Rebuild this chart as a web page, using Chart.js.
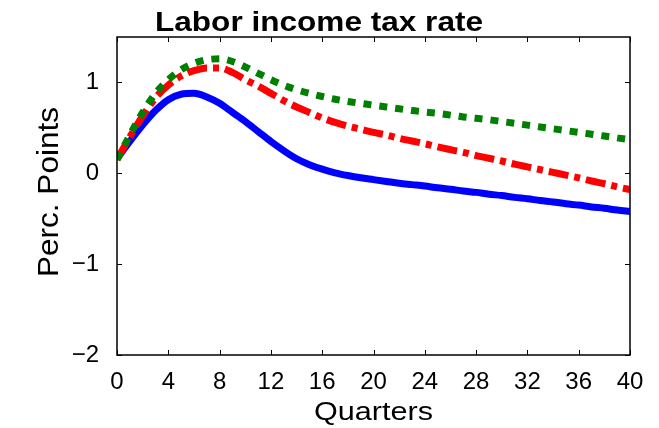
<!DOCTYPE html>
<html>
<head>
<meta charset="utf-8">
<script src="https://cdn.jsdelivr.net/npm/chart.js@4.4.1/dist/chart.umd.min.js"></script>
<style>
  html, body { margin: 0; padding: 0; background: #fff; }
  canvas { display: block; }
</style>
</head>
<body>
<canvas id="chart" width="659" height="428" style="width:659px;height:428px"></canvas>
<script>
// quarters 0..40
const quarters = [0,1,2,3,4,5,6,7,8,9,10,11,12,13,14,15,16,17,18,19,20,
                  21,22,23,24,25,26,27,28,29,30,31,32,33,34,35,36,37,38,39,40];

const blueSeries = [0.16,0.35,0.53,0.69,0.81,0.87,0.88,0.84,0.77,0.67,0.57,
                    0.46,0.35,0.25,0.16,0.095,0.045,0.005,-0.025,-0.05,-0.07,
                    -0.09,-0.11,-0.125,-0.14,-0.16,-0.175,-0.195,-0.21,-0.23,-0.245,
                    -0.265,-0.28,-0.30,-0.315,-0.335,-0.35,-0.37,-0.385,-0.405,-0.42];

const redSeries = [0.15,0.40,0.63,0.83,0.97,1.07,1.13,1.16,1.16,1.11,1.03,
                   0.96,0.88,0.80,0.73,0.67,0.61,0.56,0.52,0.485,0.45,
                   0.42,0.385,0.355,0.325,0.29,0.26,0.23,0.195,0.165,0.135,
                   0.10,0.07,0.04,0.01,-0.02,-0.05,-0.085,-0.115,-0.15,-0.18];

const greenSeries = [0.15,0.42,0.67,0.88,1.03,1.14,1.21,1.25,1.26,1.23,1.17,
                     1.10,1.03,0.97,0.92,0.88,0.845,0.815,0.79,0.77,0.75,
                     0.73,0.71,0.69,0.675,0.66,0.64,0.62,0.605,0.59,0.57,
                     0.55,0.53,0.51,0.49,0.47,0.45,0.43,0.41,0.39,0.37];

const xTicks = [0,4,8,12,16,20,24,28,32,36,40];
const yTicks = [-2,-1,0,1];

const toPoints = vals => vals.map((v, i) => ({ x: quarters[i], y: v }));

// frame + inward ticks on all four sides, like the original
const framePlugin = {
    id: 'frame',
    afterDatasetsDraw(chart) {
        const { ctx, chartArea: a, scales } = chart;
        ctx.save();
        ctx.strokeStyle = '#000';
        ctx.lineWidth = 1.5;
        ctx.strokeRect(a.left, a.top, a.right - a.left, a.bottom - a.top);
        ctx.lineWidth = 1;
        ctx.beginPath();
        xTicks.forEach(t => {
            const px = Math.round(scales.x.getPixelForValue(t)) + 0.5;
            ctx.moveTo(px, a.bottom); ctx.lineTo(px, a.bottom - 5);
            ctx.moveTo(px, a.top); ctx.lineTo(px, a.top + 5);
        });
        yTicks.forEach(t => {
            const py = Math.round(scales.y.getPixelForValue(t)) + 0.5;
            ctx.moveTo(a.left, py); ctx.lineTo(a.left + 5, py);
            ctx.moveTo(a.right, py); ctx.lineTo(a.right - 5, py);
        });
        ctx.stroke();
        ctx.restore();
    }
};

function stretchedText(ctx, text, x, y, width) {
    const w = ctx.measureText(text).width;
    ctx.save();
    ctx.translate(x, y);
    ctx.scale(width / w, 1);
    ctx.fillText(text, 0, 0);
    ctx.restore();
}

const labelsPlugin = {
    id: 'labels',
    afterDraw(chart) {
        const { ctx, chartArea: a } = chart;
        ctx.save();
        ctx.fillStyle = '#000';
        ctx.textAlign = 'center';
        ctx.textBaseline = 'alphabetic';

        ctx.font = 'bold 28px "Liberation Sans", Arial, sans-serif';
        stretchedText(ctx, 'Labor income tax rate', 319, 31, 328);

        ctx.font = '25px "Liberation Sans", Arial, sans-serif';
        stretchedText(ctx, 'Quarters', (a.left + a.right) / 2, 420, 119);

        ctx.save();
        ctx.translate(58, 192);
        ctx.rotate(-Math.PI / 2);
        ctx.font = '30px "Liberation Sans", Arial, sans-serif';
        stretchedText(ctx, 'Perc. Points', 0, 0, 170);
        ctx.restore();

        ctx.restore();
    }
};

const fmt = v => (v < 0 ? '\u2212' + Math.abs(v) : String(v));

new Chart(document.getElementById('chart'), {
    type: 'line',
    data: {
        datasets: [
            {
                label: 'blue',
                data: toPoints(blueSeries),
                borderColor: '#0000ff',
                borderWidth: 7,
                pointRadius: 0,
                cubicInterpolationMode: 'monotone',
                order: 3
            },
            {
                label: 'red',
                data: toPoints(redSeries),
                borderColor: '#ff0000',
                borderWidth: 7,
                borderDash: [20, 6, 6, 6],
                borderCapStyle: 'butt',
                pointRadius: 0,
                cubicInterpolationMode: 'monotone',
                order: 2
            },
            {
                label: 'green',
                data: toPoints(greenSeries),
                borderColor: '#008000',
                borderWidth: 7,
                borderDash: [8, 8],
                borderCapStyle: 'butt',
                pointRadius: 0,
                cubicInterpolationMode: 'monotone',
                order: 1
            }
        ]
    },
    options: {
        responsive: false,
        animation: false,
        events: [],
        layout: { padding: { top: 37, right: 29, left: 0, bottom: 0 } },
        plugins: {
            legend: { display: false },
            tooltip: { enabled: false },
            title: { display: false }
        },
        scales: {
            x: {
                type: 'linear',
                min: 0,
                max: 40,
                afterFit: s => { s.height = 73; },
                afterBuildTicks: s => { s.ticks = xTicks.map(v => ({ value: v })); },
                grid: { display: false },
                border: { display: false },
                ticks: {
                    color: '#000',
                    padding: 5,
                    maxRotation: 0,
                    autoSkip: false,
                    font: { family: '"Liberation Sans", Arial, sans-serif', size: 24 },
                    callback: fmt
                }
            },
            y: {
                type: 'linear',
                min: -2,
                max: 1.5,
                afterFit: s => { s.width = 117; },
                afterBuildTicks: s => { s.ticks = yTicks.map(v => ({ value: v })); },
                grid: { display: false },
                border: { display: false },
                ticks: {
                    color: '#000',
                    padding: 10,
                    autoSkip: false,
                    font: { family: '"Liberation Sans", Arial, sans-serif', size: 24 },
                    callback: fmt
                }
            }
        }
    },
    plugins: [framePlugin, labelsPlugin]
});
</script>
</body>
</html>
